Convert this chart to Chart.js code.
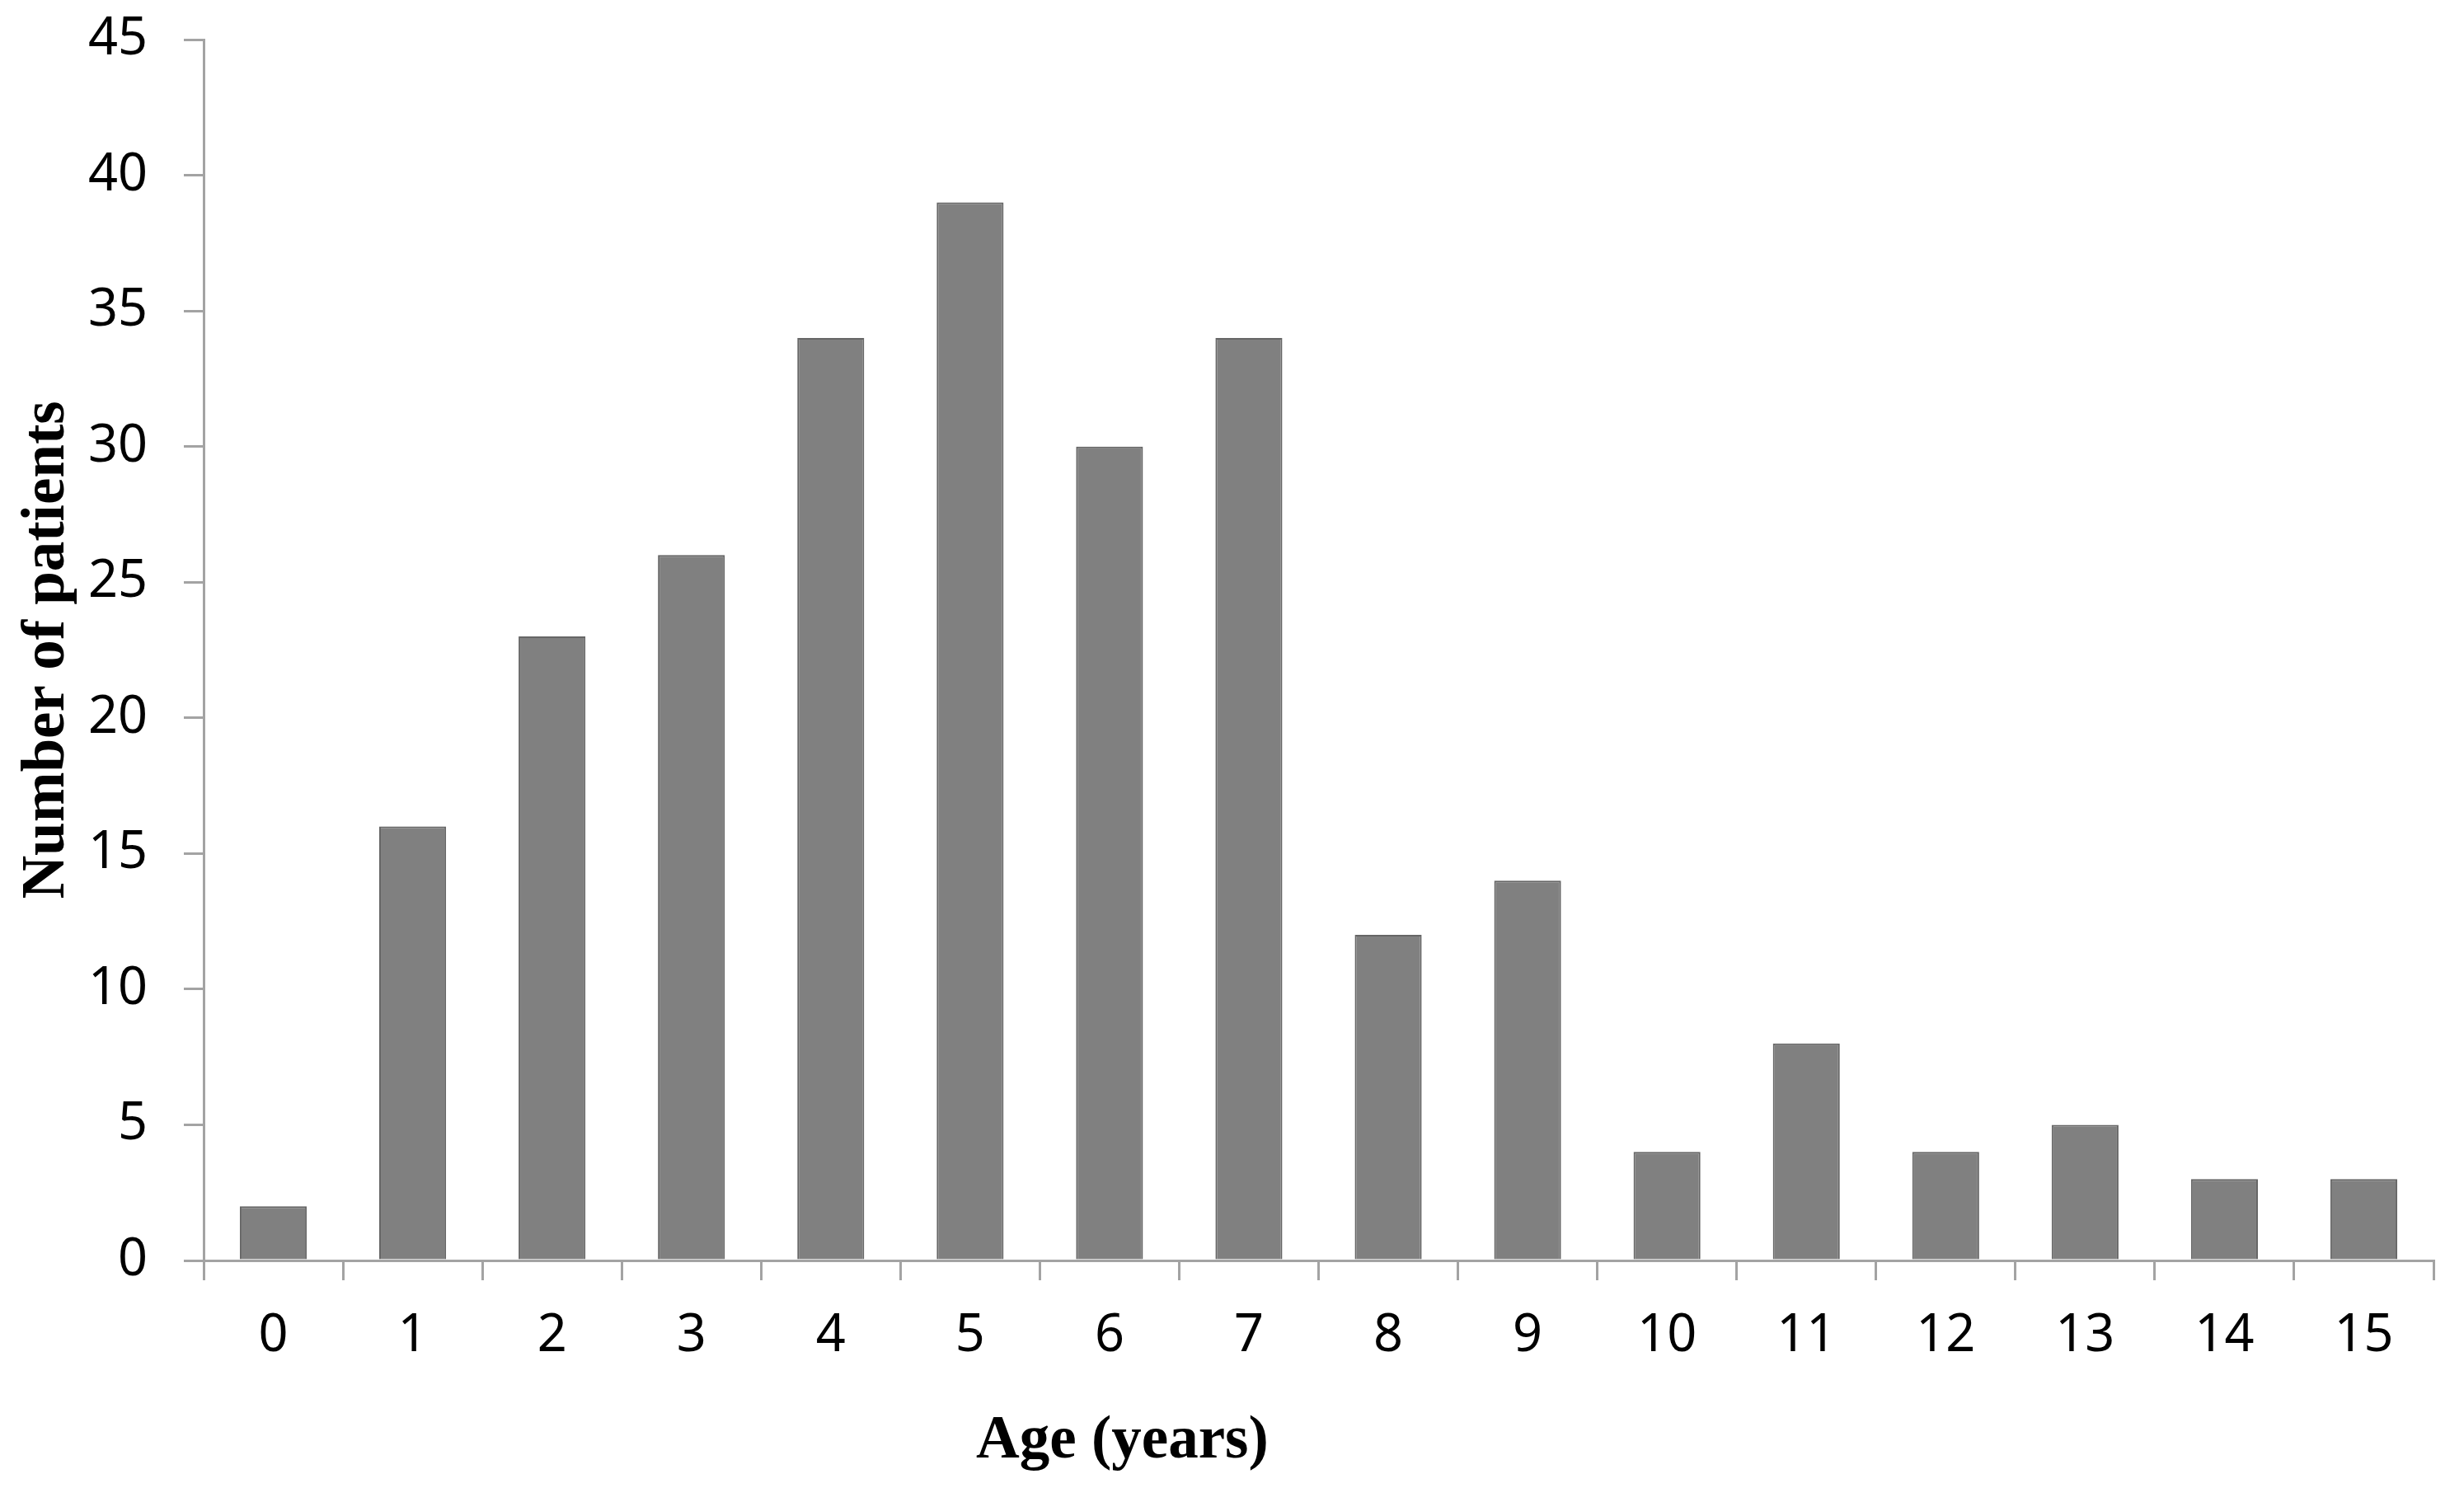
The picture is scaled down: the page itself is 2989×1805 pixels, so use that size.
<!DOCTYPE html>
<html lang="en">
<head>
    <meta charset="UTF-8">
    <title>Number of patients by age</title>
    <script src="https://cdn.jsdelivr.net/npm/chart.js"></script>
    <style>
        body {
            margin: 0;
            background-color: #fff;
        }
        #chart-wrap {
            width: 2989px;
            height: 1805px;
        }
    </style>
</head>
<body>
    <div id="chart-wrap">
        <canvas id="chart" width="2989" height="1805"></canvas>
    </div>

    <script>
        // data
        const ages = ['0', '1', '2', '3', '4', '5', '6', '7', '8', '9', '10', '11', '12', '13', '14', '15'];
        const patients = [2, 16, 23, 26, 34, 39, 30, 34, 12, 14, 4, 8, 4, 5, 3, 3];
        const yMin = 0;
        const yMax = 45;
        const yStep = 5;
        const xTitle = 'Age (years)';
        const yTitle = 'Number of patients';

        const axisGray = '#a3a3a3';
        const tickFont = { family: '"Noto Sans", sans-serif', size: 63 };
        const titleFont = { family: '"Liberation Serif", serif', size: 73, weight: 'bold', lineHeight: 1 };

        // x title sits left of centre in the original, so draw it by hand
        const xTitlePlugin = {
            id: 'xTitle',
            afterDraw(chart) {
                const { ctx, chartArea } = chart;
                ctx.save();
                ctx.font = 'bold 73px "Liberation Serif", serif';
                ctx.fillStyle = '#000';
                ctx.textAlign = 'center';
                ctx.textBaseline = 'alphabetic';
                const x = chartArea.left + 0.412 * (chartArea.right - chartArea.left);
                ctx.fillText(xTitle, x, chartArea.bottom + 239);
                ctx.restore();
            }
        };

        const ctx = document.getElementById('chart').getContext('2d');
        new Chart(ctx, {
            type: 'bar',
            data: {
                labels: ages,
                datasets: [{
                    label: yTitle,
                    data: patients,
                    backgroundColor: '#808080',
                    borderColor: '#666666',
                    borderWidth: 2,
                    categoryPercentage: 1,
                    barPercentage: 0.48
                }]
            },
            options: {
                responsive: false,
                animation: false,
                layout: {
                    padding: { top: 48, right: 37, bottom: 0, left: 0 }
                },
                plugins: {
                    legend: { display: false },
                    tooltip: { enabled: false }
                },
                scales: {
                    x: {
                        offset: true,
                        grid: {
                            offset: true,
                            drawOnChartArea: false,
                            drawTicks: true,
                            tickLength: 24,
                            color: axisGray,
                            lineWidth: 3
                        },
                        border: { display: true, color: axisGray, width: 3 },
                        ticks: {
                            color: '#000',
                            font: tickFont,
                            padding: 30,
                            maxRotation: 0
                        },
                        afterFit(scale) {
                            scale.height = 276;
                            scale.paddingLeft = 0;
                            scale.paddingRight = 0;
                        }
                    },
                    y: {
                        min: yMin,
                        max: yMax,
                        grid: {
                            drawOnChartArea: false,
                            drawTicks: true,
                            tickLength: 24,
                            color: axisGray,
                            lineWidth: 3
                        },
                        border: { display: true, color: axisGray, width: 3 },
                        ticks: {
                            stepSize: yStep,
                            color: '#000',
                            font: tickFont,
                            padding: 44
                        },
                        title: {
                            display: true,
                            text: yTitle,
                            color: '#000',
                            font: titleFont,
                            padding: { top: 22, bottom: 0 }
                        },
                        afterFit(scale) {
                            scale.width = 247;
                            scale.paddingTop = 0;
                            scale.paddingBottom = 0;
                        }
                    }
                }
            },
            plugins: [xTitlePlugin]
        });
    </script>
</body>
</html>
